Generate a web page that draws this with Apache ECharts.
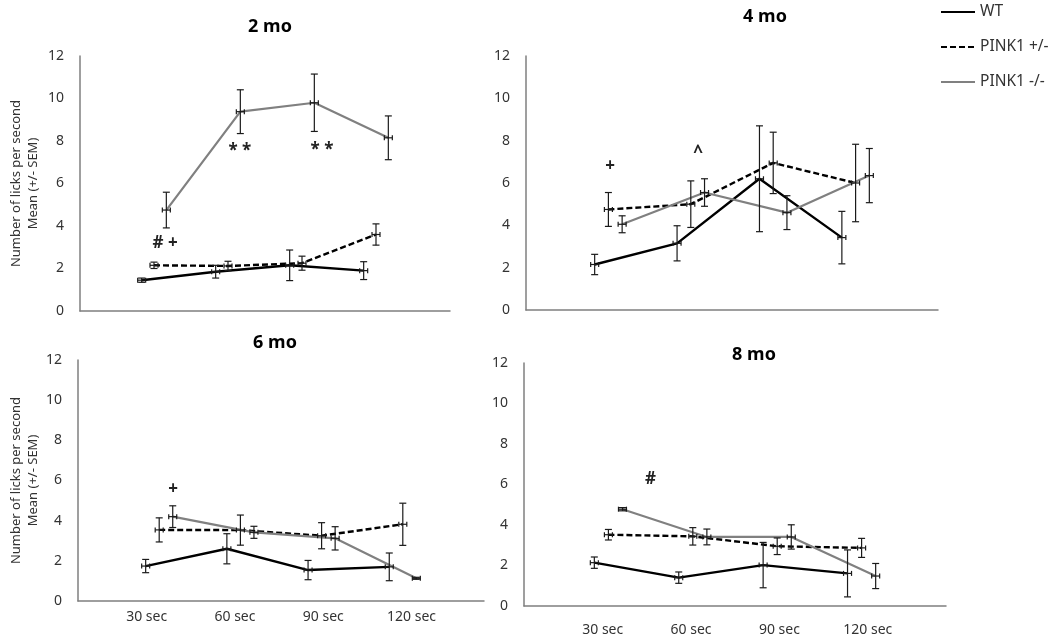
<!DOCTYPE html>
<html><head><meta charset="utf-8">
<script src="https://cdn.jsdelivr.net/npm/echarts@6/dist/echarts.min.js"></script>
<style>html,body{margin:0;padding:0;background:#fff}#c{width:1050px;height:637px}</style>
</head><body><div id="c"></div>
<script>
// ---------- data ----------
const seriesNames = ['WT', 'PINK1 +/-', 'PINK1 -/-'];
const timeLabels = ['30 sec', '60 sec', '90 sec', '120 sec'];
const panelTitles = ['2 mo', '4 mo', '6 mo', '8 mo'];
const yAxisTitle = 'Number of licks per second\nMean (+/- SEM)';

const mo2_WT = [1.45, 1.85, 2.15, 1.9];
const mo2_WT_sem = [0.1, 0.3, 0.72, 0.42];
const mo2_HET = [2.15, 2.12, 2.25, 3.6];
const mo2_HET_sem = [0.15, 0.22, 0.33, 0.5];
const mo2_KO = [4.75, 9.38, 9.8, 8.15];
const mo2_KO_sem = [0.84, 1.03, 1.35, 1.03];

const mo4_WT = [2.15, 3.15, 6.2, 3.42];
const mo4_WT_sem = [0.48, 0.83, 2.5, 1.24];
const mo4_HET = [4.75, 5.0, 6.95, 6.0];
const mo4_HET_sem = [0.8, 1.1, 1.45, 1.83];
const mo4_KO = [4.05, 5.55, 4.6, 6.35];
const mo4_KO_sem = [0.4, 0.65, 0.8, 1.28];

const mo6_WT = [1.74, 2.6, 1.54, 1.7];
const mo6_WT_sem = [0.33, 0.75, 0.48, 0.69];
const mo6_HET = [3.54, 3.53, 3.25, 3.82];
const mo6_HET_sem = [0.6, 0.75, 0.65, 1.05];
const mo6_KO = [4.2, 3.42, 3.12, 1.13];
const mo6_KO_sem = [0.54, 0.3, 0.58, 0.05];

const mo8_WT = [2.14, 1.4, 2.02, 1.61];
const mo8_WT_sem = [0.28, 0.28, 1.12, 1.16];
const mo8_HET = [3.52, 3.44, 2.95, 2.87];
const mo8_HET_sem = [0.26, 0.43, 0.41, 0.47];
const mo8_KO = [4.78, 3.41, 3.41, 1.48];
const mo8_KO_sem = [0.08, 0.39, 0.6, 0.62];

// significance notes: [timepoint position, y value, text]
const notes2 = [[1.15, 3.2, '# +'], [2.16, 7.5, '* *'], [3.27, 7.55, '* *']];
const notes4 = [[1.02, 6.8, '+'], [2.09, 7.4, '^']];
const notes6 = [[1.17, 5.58, '+']];
const notes8 = [[1.5, 6.24, '#']];

// ---------- layout / style ----------
const FONT = '"Noto Sans", sans-serif';
const panels = [
  { means: [mo2_WT, mo2_HET, mo2_KO], sems: [mo2_WT_sem, mo2_HET_sem, mo2_KO_sem], notes: notes2,
    grid: { left: 80, top: 56, width: 370, height: 255 }, title: [270, 27], yTitle: true, nameGap: 38 },
  { means: [mo4_WT, mo4_HET, mo4_KO], sems: [mo4_WT_sem, mo4_HET_sem, mo4_KO_sem], notes: notes4,
    grid: { left: 526, top: 56, width: 412, height: 254 }, title: [765, 17], yTitle: false },
  { means: [mo6_WT, mo6_HET, mo6_KO], sems: [mo6_WT_sem, mo6_HET_sem, mo6_KO_sem], notes: notes6,
    grid: { left: 78, top: 360, width: 406, height: 241 }, title: [275, 343], yTitle: true, nameGap: 34,
    labelAxis: { min: 0.222, max: 4.82, margin: 9 } },
  { means: [mo8_WT, mo8_HET, mo8_KO], sems: [mo8_WT_sem, mo8_HET_sem, mo8_KO_sem], notes: notes8,
    grid: { left: 524, top: 363, width: 422, height: 246 }, title: [754, 355], yTitle: false,
    labelAxis: { min: 0.109, max: 4.885, margin: 17 } }
];
const shifts = [-1 / 6, 0, 1 / 6];
const colors = ['#000000', '#000000', '#808080'];
const lineTypes = ['solid', [6, 3], 'solid'];
const lineWidths = [2.4, 2.4, 2.2];
const axisColor = '#7f7f7f';

function renderErr(params, api) {
  const x = api.value(0), y = api.value(1), e = api.value(2);
  const c = api.coord([x, y]), hi = api.coord([x, y + e]), lo = api.coord([x, y - e]);
  const cw = 3.5, hw = 4, hc = 2.5;
  const st = { stroke: '#1a1a1a', lineWidth: 1.2 };
  return { type: 'group', children: [
    { type: 'line', shape: { x1: c[0], y1: hi[1], x2: c[0], y2: lo[1] }, style: st },
    { type: 'line', shape: { x1: c[0] - cw, y1: hi[1], x2: c[0] + cw, y2: hi[1] }, style: st },
    { type: 'line', shape: { x1: c[0] - cw, y1: lo[1], x2: c[0] + cw, y2: lo[1] }, style: st },
    { type: 'line', shape: { x1: c[0] - hw, y1: c[1], x2: c[0] + hw, y2: c[1] }, style: st },
    { type: 'line', shape: { x1: c[0] - hw, y1: c[1] - hc, x2: c[0] - hw, y2: c[1] + hc }, style: st },
    { type: 'line', shape: { x1: c[0] + hw, y1: c[1] - hc, x2: c[0] + hw, y2: c[1] + hc }, style: st }
  ] };
}

const grid = [], xAxis = [], yAxis = [], series = [], graphic = [];
panels.forEach((p, i) => {
  grid.push(Object.assign({ containLabel: false }, p.grid));
  xAxis.push({ type: 'value', gridIndex: i, min: 0, max: 5,
    axisLine: { show: true, lineStyle: { color: axisColor, width: 1.5 } },
    axisTick: { show: false }, axisLabel: { show: false }, splitLine: { show: false } });
  yAxis.push({ type: 'value', gridIndex: i, min: 0, max: 12, interval: 2,
    axisLine: { show: true, lineStyle: { color: axisColor, width: 1.5 } },
    axisTick: { show: false }, splitLine: { show: false },
    axisLabel: { fontSize: 14, color: '#333', fontFamily: FONT, margin: 16 },
    name: p.yTitle ? yAxisTitle : '', nameLocation: 'middle', nameGap: p.nameGap || 30,
    nameTextStyle: { fontSize: 13, color: '#333', fontFamily: FONT, lineHeight: 17 } });
  graphic.push({ type: 'text', x: p.title[0], y: p.title[1],
    style: { text: panelTitles[i], font: 'bold 18px ' + FONT, fill: '#000', textAlign: 'center', textVerticalAlign: 'middle' } });
  for (let s = 0; s < 3; s++) {
    series.push({ type: 'line', name: seriesNames[s], xAxisIndex: i, yAxisIndex: i,
      data: p.means[s].map((v, k) => [k + 1 + shifts[s], v]),
      symbol: 'none', z: 2,
      lineStyle: { color: colors[s], width: lineWidths[s], type: lineTypes[s] },
      itemStyle: { color: colors[s] } });
  }
  for (let s = 0; s < 3; s++) {
    series.push({ type: 'custom', name: 'err' + i + s, xAxisIndex: i, yAxisIndex: i, z: 3,
      data: p.means[s].map((v, k) => [k + 1 + shifts[s], v, p.sems[s][k]]),
      renderItem: renderErr, clip: false });
  }
  const notes = p.notes;
  series.push({ type: 'custom', name: 'notes' + i, xAxisIndex: i, yAxisIndex: i, z: 4,
    data: notes.map(n => [n[0], n[1]]),
    renderItem: (params, api) => {
      const c = api.coord([api.value(0), api.value(1)]);
      return { type: 'text', x: c[0], y: c[1],
        style: { text: notes[params.dataIndex][2], font: 'bold 17px ' + FONT, fill: '#222', textAlign: 'center', textVerticalAlign: 'middle' } };
    }, clip: false });
});
// time-label axes for the bottom panels
panels.forEach((p, i) => {
  if (!p.labelAxis) return;
  xAxis.push({ type: 'value', gridIndex: i, min: p.labelAxis.min, max: p.labelAxis.max,
    position: 'bottom', axisLine: { show: false }, axisTick: { show: false }, splitLine: { show: false },
    axisLabel: { customValues: [1, 2, 3, 4], formatter: v => timeLabels[Math.round(v) - 1] || '',
      fontSize: 14, color: '#333', fontFamily: FONT, margin: p.labelAxis.margin } });
});

const chart = echarts.init(document.getElementById('c'), null, { renderer: 'canvas' });
chart.setOption({
  animation: false,
  backgroundColor: '#fff',
  grid, xAxis, yAxis, series, graphic,
  legend: { data: seriesNames, orient: 'vertical', left: 940, top: 4, padding: 0,
    itemWidth: 34, itemHeight: 14, itemGap: 19,
    itemStyle: { opacity: 0, borderWidth: 0 },
    textStyle: { fontSize: 15.5, color: '#333', fontFamily: FONT } }
});
</script></body></html>
